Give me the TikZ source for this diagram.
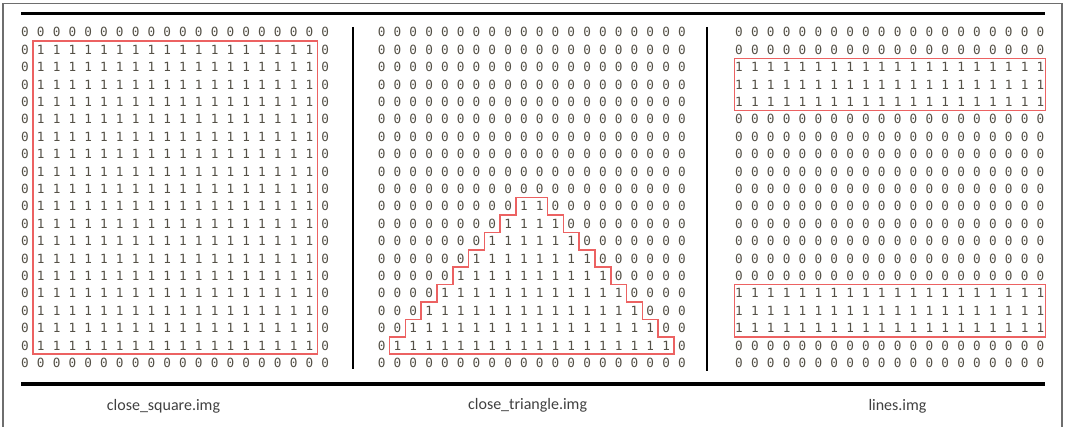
\documentclass[tikz,border=0pt]{standalone}
\usepackage{fontspec}
\newfontfamily\digitfont{DejaVu Sans Mono}
\newfontfamily\labelfont{Carlito}
\definecolor{digitgray}{RGB}{84,80,70}
\definecolor{boxred}{RGB}{236,98,98}
\definecolor{framegray}{RGB}{110,110,110}
\begin{document}
\begin{tikzpicture}[
        x=0.75pt, y=-0.75pt,
        digit/.style={inner sep=0pt, text=digitgray,
        font=\digitfont\fontsize{9.5}{11}\selectfont},
        outline/.style={draw=boxred, line width=1.1pt, line join=miter},
        rule/.style={line width=2.4pt},
        divider/.style={line width=1.9pt},
        caption/.style={font=\labelfont\fontsize{12}{14}\selectfont, text=black!75}
      ]
    \useasboundingbox (0,0) rectangle (1071,427);
    \draw[framegray, line width=0.8pt] (3,427) -- (3,3.5) -- (1062,3.5) -- (1062,427);
    \draw[rule] (21,13.3) -- (1045,13.3);
    \draw[rule] (21,384) -- (1045,384);
    \draw[divider] (353,27) -- (353,369);
    \draw[divider] (707,27) -- (707,371);
    % close_square.img
    \begin{scope}[shift={(25,32.3)}, x=11.85pt, y=-13.05pt]
    \foreach \r in {0,...,19} \foreach \c in {0,...,19} {
        \pgfmathtruncatemacro\d{(\r>0)*(\r<19)*(\c>0)*(\c<19)}
        \node[digit] (sq-\r-\c) at (\c,\r) {\d};
    }
    \draw[outline] (0.5,0.5) rectangle (18.5,18.5);
    \end{scope}
    % close_triangle.img
    \begin{scope}[shift={(381.7,32.3)}, x=11.85pt, y=-13.05pt]
    \foreach \r in {0,...,19} \foreach \c in {0,...,19} {
        \pgfmathtruncatemacro\d{(\r>9)*(\r<19)*(\c>18-\r)*(\c<\r+1)}
        \node[digit] (tri-\r-\c) at (\c,\r) {\d};
    }
    \draw[outline] (0.5,18.5)
        \foreach \r in {18,...,11} { -- ({18.5-\r},{\r-0.5}) -- ({19.5-\r},{\r-0.5}) }
        -- (8.5,9.5) -- (10.5,9.5)
        \foreach \r in {10,...,17} { -- ({\r+0.5},{\r+0.5}) -- ({\r+1.5},{\r+0.5}) }
        -- (18.5,18.5) -- cycle;
    \end{scope}
    % lines.img
    \begin{scope}[shift={(739,32.3)}, x=11.9pt, y=-13.05pt]
    \foreach \r in {0,...,19} \foreach \c in {0,...,19} {
        \pgfmathtruncatemacro\d{(\r>1)*(\r<5)+(\r>14)*(\r<18)}
        \node[digit] (ln-\r-\c) at (\c,\r) {\d};
    }
    \draw[outline] (-0.3,1.5) rectangle (19.3,4.5);
    \draw[outline] (-0.3,14.5) rectangle (19.3,17.5);
    \end{scope}
    \node[caption] (sqname) at (163.5,406) {close\_square.img};
    \node[caption] (triname) at (527.6,405.5) {close\_triangle.img};
    \node[caption] (lnname) at (897.5,406.5) {lines.img};
\end{tikzpicture}
\end{document}
